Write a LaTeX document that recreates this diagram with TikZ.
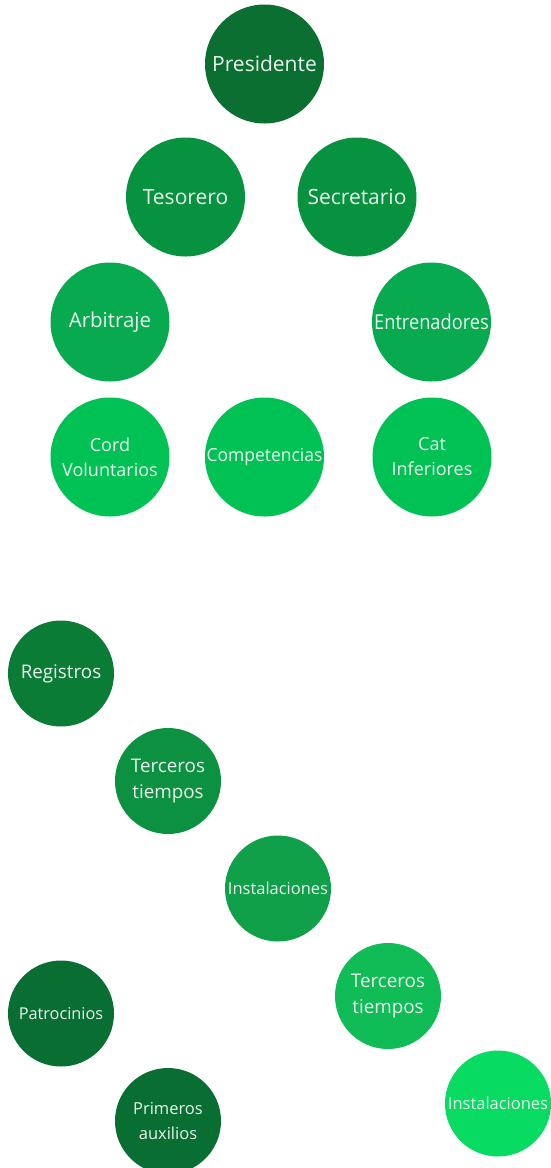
\documentclass[tikz,border=0pt]{standalone}
\usepackage{fontspec}
\setmainfont{Open Sans}
\usepackage{graphicx}
\definecolor{cPres}{HTML}{0A6F31}
\definecolor{cLvl2}{HTML}{07923F}
\definecolor{cLvl3}{HTML}{07AA4F}
\definecolor{cLvl4}{HTML}{00C254}
\definecolor{cReg}{HTML}{0A7C36}
\definecolor{cTerA}{HTML}{0B913F}
\definecolor{cInsA}{HTML}{10A049}
\definecolor{cTerB}{HTML}{10BC55}
\definecolor{cInsB}{HTML}{07DB62}
\definecolor{cPat}{HTML}{086E31}
\definecolor{txt}{HTML}{EAF6EE}
\tikzset{
  big/.style={circle, minimum size=119pt, inner sep=0pt, text=txt, align=center,
    font=\fontsize{21}{26}\selectfont},
  small/.style={circle, minimum size=106pt, inner sep=0pt, text=txt, align=center,
    font=\fontsize{18.8}{26}\selectfont},
}
\begin{document}
\begin{tikzpicture}[x=1pt,y=-1pt]
\useasboundingbox (0,0) rectangle (550,1168);
% upper chart
\node[big, fill=cPres] (pres) at (264.5,64) {Presidente};
\node[big, fill=cLvl2] (tes) at (185.5,197) {Tesorero};
\node[big, fill=cLvl2] (sec) at (357,197) {Secretario};
\node[big, fill=cLvl3, font=\fontsize{20.5}{26}\selectfont] (arb) at (110,322) {Arbitraje};
\node[big, fill=cLvl3] (ent) at (431.5,322) {\scalebox{0.89}[1]{\fontsize{20.5}{26}\selectfont Entrenadores}};
\node[big, fill=cLvl4, font=\fontsize{18}{25}\selectfont] (cord) at (110,457) {Cord\\Voluntarios};
\node[big, fill=cLvl4] (comp) at (264.5,457) {\scalebox{0.97}[1]{\fontsize{18}{25}\selectfont Competencias}};
\node[big, fill=cLvl4, font=\fontsize{18}{25}\selectfont] (cat) at (432,457) {Cat\\Inferiores};
% lower chart
\node[small, fill=cReg] (reg) at (61,673.5) {Registros};
\node[small, fill=cTerA] (terA) at (168,781) {Terceros\\tiempos};
\node[small, fill=cInsA, font=\fontsize{16.5}{24}\selectfont] (insA) at (278,888.5) {Instalaciones};
\node[small, fill=cTerB] (terB) at (388,996) {Terceros\\tiempos};
\node[small, fill=cInsB, font=\fontsize{16.5}{24}\selectfont] (insB) at (498,1103.5) {Instalaciones};
\node[small, fill=cPat, font=\fontsize{16.3}{25}\selectfont] (pat) at (61,1013.5) {Patrocinios};
\node[small, fill=cPat, font=\fontsize{16.5}{25}\selectfont] (prim) at (168,1121) {Primeros\\auxilios};
\end{tikzpicture}
\end{document}
